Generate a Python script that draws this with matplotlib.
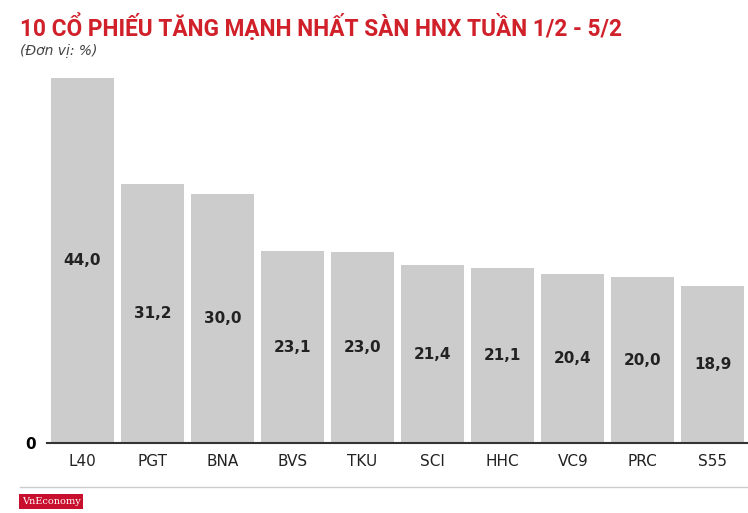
import matplotlib
matplotlib.use("Agg")
import matplotlib.pyplot as plt

categories = ["L40", "PGT", "BNA", "BVS", "TKU", "SCI", "HHC", "VC9", "PRC", "S55"]
values = [44.0, 31.2, 30.0, 23.1, 23.0, 21.4, 21.1, 20.4, 20.0, 18.9]
labels = ["44,0", "31,2", "30,0", "23,1", "23,0", "21,4", "21,1", "20,4", "20,0", "18,9"]

fig = plt.figure(figsize=(7.48, 5.13), dpi=100)
ax = fig.add_axes([0.063, 1 - 443 / 513, 0.937, (443 - 78) / 513])
ax.bar(range(len(values)), values, width=0.9, color="#cccccc")
for i, (v, l) in enumerate(zip(values, labels)):
    ax.text(i, v / 2, l, ha="center", va="center", fontsize=11, fontweight="bold", color="#222222")
ax.set_xlim(-0.5, 9.5)
ax.set_ylim(0, 44)
ax.set_xticks(range(len(values)))
ax.set_xticklabels(categories, fontsize=11, color="#222222")
ax.set_yticks([0])
ax.set_yticklabels(["0"], fontsize=11, fontweight="bold")
ax.tick_params(length=0, pad=8)
for s in ["top", "right", "left"]:
    ax.spines[s].set_visible(False)
ax.spines["bottom"].set_color("#333333")
ax.spines["bottom"].set_linewidth(1.5)

fig.text(0.027, 0.975, "10 CỔ PHIẾU TĂNG MẠNH NHẤT SÀN HNX TUẦN 1/2 - 5/2",
         fontsize=16.3, fontweight="bold", color="#d0202a", va="top", family="Roboto")
fig.text(0.027, 0.915, "(Đơn vị: %)", fontsize=10, style="italic", color="#444444", va="top")
fig.add_artist(plt.Line2D([0.027, 1.0], [1 - 487 / 513] * 2, color="#cccccc", lw=1))
fig.text(0.029, 0.018, "VnEconomy", fontsize=7, color="white", family="DejaVu Serif",
         bbox=dict(facecolor="#c8102e", edgecolor="none", pad=2))
fig.savefig("out.png", dpi=100)
